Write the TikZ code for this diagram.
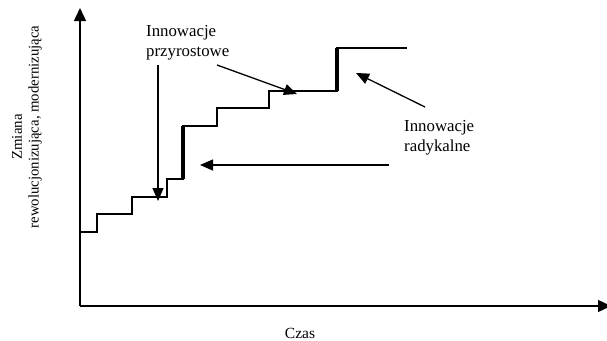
\documentclass[tikz,border=0pt]{standalone}
\usepackage{fontspec}
\setmainfont{Liberation Serif}
\usetikzlibrary{arrows.meta}

\begin{document}
\begin{tikzpicture}[x=1pt, y=-1pt,
    arr/.style={-{Triangle[length=13pt, width=11pt]}, line width=1.3pt},
    lbl/.style={font=\fontsize{16.8}{20}\selectfont, align=left, inner sep=0pt}]
    \useasboundingbox (0,0) rectangle (607,340);

    % axes
    \coordinate (o) at (80,306);
    \coordinate (ytop) at (80,8);
    \coordinate (xend) at (611,306);
    \draw[-{Triangle[length=13pt, width=12pt]}, line width=1.4pt] (o) -- (ytop);
    \draw[-{Triangle[length=13pt, width=12pt]}, line width=1.4pt] (o) -- (xend);

    % steps
    \draw[line width=1.3pt] (80,232) -- (97,232) -- (97,214) -- (132,214) -- (132,197)
        -- (167,197) -- (167,179) -- (183,179) -- (183,126) -- (217,126) -- (217,108)
        -- (269,108) -- (269,91) -- (337,91) -- (337,48) -- (407,48);
    \draw[line width=4.5pt] (183,179) -- (183,126);
    \draw[line width=4.5pt] (337,91) -- (337,48);

    % labels
    \node[lbl, anchor=west] (przyrost) at (146,43) {Innowacje\\przyrostowe};
    \node[lbl, anchor=west] (radykal) at (404,138) {Innowacje\\radykalne};
    \node[font=\fontsize{15.5}{18}\selectfont] (czas) at (300,333) {Czas};
    \node[rotate=90, font=\fontsize{14.8}{18}\selectfont] (zmiana) at (17,137) {Zmiana};
    \node[rotate=90, font=\fontsize{14.8}{18}\selectfont] (rewol) at (35,127) {rewolucjonizująca, modernizująca};

    % arrows
    \coordinate (p1) at (158,65);  \coordinate (p1e) at (158,201);
    \coordinate (p2) at (217,65);  \coordinate (p2e) at (297,94);
    \coordinate (r1) at (389,165); \coordinate (r1e) at (200,165);
    \coordinate (r2) at (425,107); \coordinate (r2e) at (356,73);
    \draw[arr] (p1) -- (p1e);
    \draw[arr] (p2) -- (p2e);
    \draw[arr] (r1) -- (r1e);
    \draw[arr] (r2) -- (r2e);
\end{tikzpicture}
\end{document}
